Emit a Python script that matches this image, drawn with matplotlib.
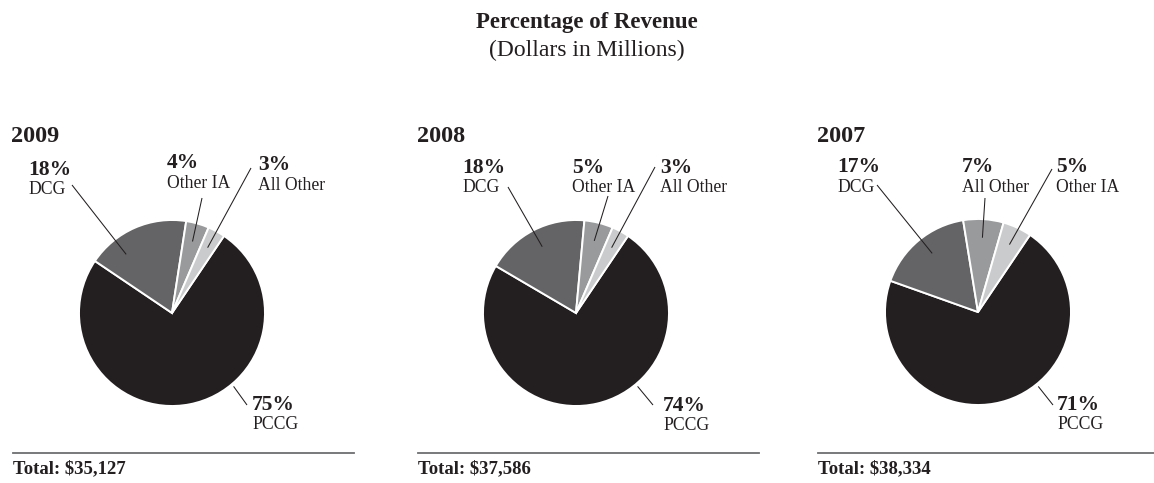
"""Percentage of revenue by operating segment, three fiscal years."""

import matplotlib
matplotlib.use("Agg")
import matplotlib.pyplot as plt
import numpy as np

plt.rcParams["font.family"] = ["Liberation Serif", "DejaVu Serif"]

INK = "#231f20"

years = ["2009", "2008", "2007"]
totals = ["$35,127", "$37,586", "$38,334"]
# segments in clockwise order starting from the PCCG wedge
segments = [
    ["PCCG", "DCG", "Other IA", "All Other"],
    ["PCCG", "DCG", "Other IA", "All Other"],
    ["PCCG", "DCG", "All Other", "Other IA"],
]
shares = [
    [75, 18, 4, 3],
    [74, 18, 5, 3],
    [71, 17, 7, 5],
]
wedge_colors = [INK, "#646466", "#999a9c", "#cacbcc"]

W, H = 1154, 483
R = 93

# per-panel layout in pixel space (y measured from top)
centers = [(172, 313), (576, 313), (978, 312)]
year_x = [11, 417, 817]
rule_x = [(13, 354), (418, 759), (818, 1154)]
# label: (text x, percent baseline, leader end x, leader end y, anchor angle, anchor r)
labels = [
    {"DCG": (28, 175, 72, 185, 128, 0.8),
     "Other IA": (167, 168.5, 202, 198, None, 0.8),
     "All Other": (258, 170.5, 251, 168, None, 0.8),
     "PCCG": (252, 410, 247, 405, -50, 1.03)},
    {"DCG": (462, 173, 508, 187, 117, 0.8),
     "Other IA": (572, 173, 608, 196, None, 0.8),
     "All Other": (660, 173, 655, 167, None, 0.8),
     "PCCG": (663, 411, 653, 405, -50, 1.03)},
    {"DCG": (837, 172.5, 877, 185, 128, 0.8),
     "All Other": (962, 172.5, 985, 198, None, 0.8),
     "Other IA": (1056, 172.5, 1052, 169, None, 0.8),
     "PCCG": (1057, 410, 1053, 405, -51, 1.03)},
]


def Y(y):
    return H - y


fig = plt.figure(figsize=(W / 100, H / 100), dpi=100)
ax = fig.add_axes([0, 0, 1, 1])

fig.text(587 / W, Y(28) / H, "Percentage of Revenue", ha="center",
         va="baseline", fontsize=16.5, fontweight="bold", color=INK)
fig.text(587 / W, Y(56) / H, "(Dollars in Millions)", ha="center",
         va="baseline", fontsize=17, color=INK)

for i, year in enumerate(years):
    cx, cy = centers[i]
    wedges, _ = ax.pie(shares[i], colors=wedge_colors, startangle=56,
                       counterclock=False, radius=R, center=(cx, Y(cy)),
                       wedgeprops=dict(edgecolor="white", linewidth=1.4))

    ax.text(year_x[i], Y(142), year, fontsize=17.5, fontweight="bold",
            color=INK, va="baseline")

    for wedge, name, pct in zip(wedges, segments[i], shares[i]):
        tx, base, lx, ly, ang, rf = labels[i][name]
        if ang is None:
            ang = 0.5 * (wedge.theta1 + wedge.theta2)
        ax_x = cx + rf * R * np.cos(np.radians(ang))
        ax_y = Y(cy) + rf * R * np.sin(np.radians(ang))
        ax.plot([ax_x, lx], [ax_y, Y(ly)], color=INK, lw=0.75,
                solid_capstyle="butt")
        ax.text(tx, Y(base), f"{pct}%", fontsize=15.5, fontweight="bold",
                color=INK, va="baseline")
        ax.text(tx, Y(base + 19), name, fontsize=12.7, color=INK,
                va="baseline")

    x0, x1 = rule_x[i]
    ax.plot([x0, x1], [Y(453), Y(453)], color="#6d6e70", lw=1.3)
    ax.text(x0, Y(473), f"Total: {totals[i]}", fontsize=13.5,
            fontweight="bold", color=INK, va="baseline")

ax.set_xlim(0, W)
ax.set_ylim(0, H)
ax.set_aspect("equal")
ax.axis("off")

fig.savefig("out.png", dpi=100)
